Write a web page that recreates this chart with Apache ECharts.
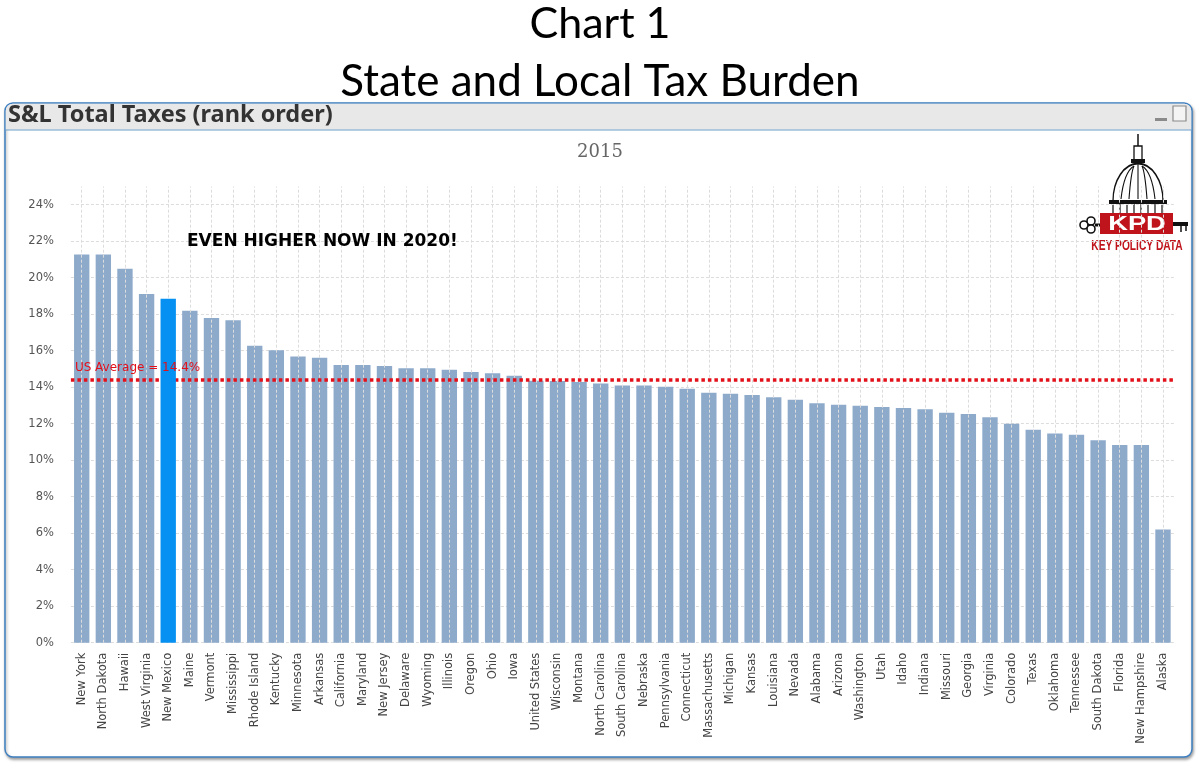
<!DOCTYPE html>
<html>
<head>
<meta charset="utf-8">
<script src="https://cdn.jsdelivr.net/npm/echarts@6/dist/echarts.min.js"></script>
<style>html,body{margin:0;padding:0;background:#fff;}#c{width:1200px;height:763px;}</style>
</head>
<body>
<div id="c"></div>
<script>
const categories = ["New York","North Dakota","Hawaii","West Virginia","New Mexico","Maine","Vermont","Mississippi","Rhode Island","Kentucky","Minnesota","Arkansas","California","Maryland","New Jersey","Delaware","Wyoming","Illinois","Oregon","Ohio","Iowa","United States","Wisconsin","Montana","North Carolina","South Carolina","Nebraska","Pennsylvania","Connecticut","Massachusetts","Michigan","Kansas","Louisiana","Nevada","Alabama","Arizona","Washington","Utah","Idaho","Indiana","Missouri","Georgia","Virginia","Colorado","Texas","Oklahoma","Tennessee","South Dakota","Florida","New Hampshire","Alaska"];
const values = [21.28,21.28,20.49,19.11,18.85,18.19,17.79,17.67,16.27,16.02,15.69,15.62,15.22,15.22,15.16,15.04,15.04,14.96,14.83,14.76,14.63,14.36,14.34,14.29,14.21,14.10,14.10,14.03,13.92,13.70,13.64,13.57,13.45,13.32,13.12,13.04,12.99,12.92,12.86,12.79,12.60,12.53,12.35,12.00,11.67,11.47,11.40,11.09,10.83,10.83,6.21];
const highlighted = "New Mexico";
const usAverage = 14.4;
const usAverageLabel = "US Average = 14.4%";
const yearLabel = "2015";
const noteText = "EVEN HIGHER NOW IN 2020!";

const chart = echarts.init(document.getElementById('c'), null, {renderer: 'canvas'});

const baseData = categories.map((c, i) => c === highlighted ? '-' : values[i]);
const hiData = categories.map((c, i) => c === highlighted ? values[i] : '-');

// logo decoration
const domeRibs = [[1121, 1124], [1129, 1131], [1147, 1145], [1155, 1152]].map(p => ({
  type: 'bezierCurve',
  shape: {x1: p[0], y1: 199, x2: p[0] < 1138 ? 1134 : 1142, y2: 166, cpx1: p[1], cpy1: 172},
  style: {fill: 'none', stroke: '#111', lineWidth: 1.1}
}));
const columns = [1113, 1120, 1127, 1134, 1141, 1148, 1155, 1162].map(x => ({
  type: 'line', shape: {x1: x, y1: 204, x2: x, y2: 214}, style: {stroke: '#111', lineWidth: 1.2}
}));

const option = {
  backgroundColor: '#ffffff',
  animation: false,
  title: [
    {text: 'Chart 1', left: 'center', top: -2, textStyle: {fontFamily: 'Lato', fontSize: 43, fontWeight: 'normal', color: '#000'}},
    {text: 'State and Local Tax Burden', left: 'center', top: 55, textStyle: {fontFamily: 'Lato', fontSize: 44, fontWeight: 'normal', color: '#000'}},
    {text: 'S&L Total Taxes (rank order)', left: 3, top: 98, textStyle: {fontFamily: 'Noto Sans', fontSize: 23.5, fontWeight: 'bold', color: '#333'}},
    {text: yearLabel, left: 'center', top: 138, textStyle: {fontFamily: 'DejaVu Serif', fontSize: 18, fontWeight: 'normal', color: '#666'}},
    {text: noteText, left: 182, top: 228, textStyle: {fontFamily: 'DejaVu Sans', fontSize: 17, fontWeight: 'bold', color: '#000'}}
  ],
  graphic: [
    {type: 'rect', z: -10, shape: {x: 5, y: 103, width: 1187, height: 654, r: 8}, style: {fill: '#fff', stroke: '#3d7fc1', lineWidth: 1.5, shadowBlur: 3, shadowOffsetX: 1, shadowOffsetY: 2, shadowColor: 'rgba(0,0,0,0.35)'}},
    {type: 'rect', z: -9, shape: {x: 5.75, y: 103.75, width: 1185.5, height: 26, r: [7, 7, 0, 0]}, style: {fill: '#e8e8e8'}},
    {type: 'line', z: -8, shape: {x1: 5, y1: 130, x2: 1192, y2: 130}, style: {stroke: '#6e9dc9', lineWidth: 1.2}},
    {type: 'rect', z: -8, shape: {x: 1155, y: 118, width: 12, height: 3}, style: {fill: '#8a8a8a'}},
    {type: 'rect', z: -8, shape: {x: 1173, y: 106, width: 13, height: 15}, style: {fill: '#f4f4f4', stroke: '#8a8a8a', lineWidth: 1.2}},
    {type: 'group', z: 100, children: [
      {type: 'line', shape: {x1: 1138, y1: 134, x2: 1138, y2: 146}, style: {stroke: '#111', lineWidth: 1.5}},
      {type: 'rect', shape: {x: 1134, y: 146, width: 8, height: 14}, style: {fill: '#fff', stroke: '#111', lineWidth: 1.3}},
      {type: 'rect', shape: {x: 1131, y: 159, width: 14, height: 4}, style: {fill: '#111'}},
      {type: 'sector', shape: {cx: 1138, cy: 201, r: 25, r0: 0, startAngle: Math.PI, endAngle: 2 * Math.PI, clockwise: true}, scaleY: 1.5, originX: 1138, originY: 201, style: {fill: '#fff', stroke: '#111', lineWidth: 1.3}},
      {type: 'line', shape: {x1: 1138, y1: 199, x2: 1138, y2: 164}, style: {stroke: '#111', lineWidth: 1.1}},
      ...domeRibs,
      {type: 'rect', shape: {x: 1109, y: 200, width: 58, height: 4}, style: {fill: '#111'}},
      ...columns,
      {type: 'rect', shape: {x: 1100, y: 213, width: 73, height: 21}, style: {fill: '#c0141c'}},
      {type: 'text', x: 1137, y: 224.5, scaleX: 1.3, style: {x: 0, y: 0, text: 'KPD', fill: '#fff', font: 'bold 21px "Liberation Sans"', align: 'center', verticalAlign: 'middle'}},
      {type: 'circle', shape: {cx: 1084, cy: 225, r: 4}, style: {fill: '#fff', stroke: '#111', lineWidth: 1.6}},
      {type: 'circle', shape: {cx: 1091, cy: 221, r: 4}, style: {fill: '#fff', stroke: '#111', lineWidth: 1.6}},
      {type: 'circle', shape: {cx: 1091, cy: 229, r: 4}, style: {fill: '#fff', stroke: '#111', lineWidth: 1.6}},
      {type: 'rect', shape: {x: 1095, y: 223.5, width: 5, height: 3}, style: {fill: '#111'}},
      {type: 'rect', shape: {x: 1173, y: 222, width: 15, height: 4}, style: {fill: '#111'}},
      {type: 'line', shape: {x1: 1181, y1: 226, x2: 1181, y2: 232}, style: {stroke: '#111', lineWidth: 1.5}},
      {type: 'line', shape: {x1: 1186, y1: 226, x2: 1186, y2: 231}, style: {stroke: '#111', lineWidth: 1.5}},
      {type: 'text', x: 1137, y: 245.5, scaleX: 0.68, style: {x: 0, y: 0, text: 'KEY POLICY DATA', fill: '#c0141c', font: 'bold 15px "Liberation Sans"', align: 'center', verticalAlign: 'middle'}}
    ]}
  ],
  grid: {left: 70.9, right: 26.2, top: 186.5, bottom: 120.3, containLabel: false},
  xAxis: {
    type: 'category',
    data: categories,
    axisLine: {show: false},
    axisTick: {show: false},
    splitLine: {show: false},
    axisLabel: {interval: 0, rotate: 90, margin: 10, fontFamily: 'DejaVu Sans', fontSize: 11.5, color: '#444'}
  },
  yAxis: {
    type: 'value',
    min: 0,
    max: 25,
    interval: 2,
    axisLine: {show: false},
    axisTick: {show: false},
    axisLabel: {formatter: '{value}%', showMaxLabel: false, margin: 17, fontFamily: 'DejaVu Sans', fontSize: 11.5, color: '#555'},
    splitLine: {show: true, showMaxLine: false, lineStyle: {color: '#dcdcdc', type: [3, 2], width: 1}}
  },
  series: [
    {
      type: 'line', data: [], z: 1, silent: true,
      markLine: {
        silent: true, symbol: 'none', animation: false,
        label: {show: false},
        lineStyle: {color: '#dcdcdc', type: [3, 2], width: 1},
        data: categories.map(c => ({xAxis: c}))
      }
    },
    {
      name: 'S&L Total Taxes', type: 'bar', data: baseData, z: 2, barWidth: '71%',
      itemStyle: {color: '#8eaacb'},
      markLine: {
        silent: true, symbol: 'none', animation: false,
        lineStyle: {color: '#e3101a', type: [3.5, 3], width: 3.5},
        label: {show: true, position: 'insideStartTop', formatter: usAverageLabel, color: '#e3101a', fontFamily: 'DejaVu Sans', fontSize: 12, distance: [4, 6]},
        data: [{yAxis: usAverage}]
      }
    },
    {
      name: highlighted, type: 'bar', data: hiData, z: 5, barWidth: '71%', barGap: '-100%',
      itemStyle: {color: '#0590f2'}
    }
  ]
};
chart.setOption(option);
</script>
</body>
</html>
